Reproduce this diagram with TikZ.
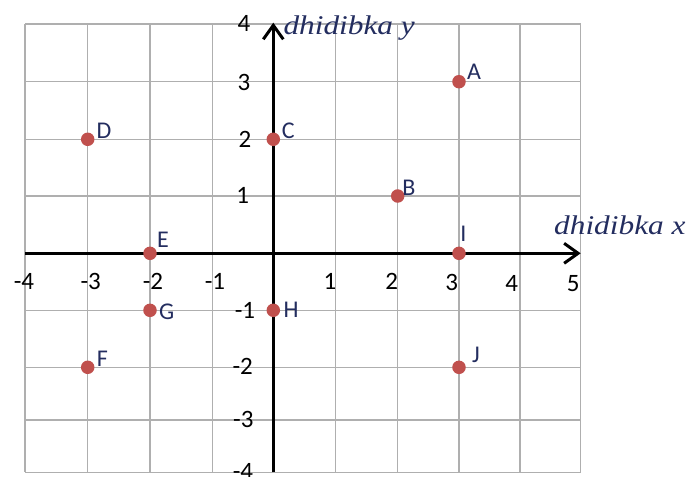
\documentclass[tikz,border=0pt]{standalone}
\usepackage{fontspec}
\usetikzlibrary{arrows.meta}
\newfontfamily\lblfont{Carlito}
\newfontfamily\axfont[FakeStretch=1.16]{Liberation Serif}
\definecolor{navy}{RGB}{35,45,95}
\definecolor{dotred}{RGB}{192,80,77}
\definecolor{gridgray}{RGB}{175,175,175}
\tikzset{
  gridline/.style={draw=gridgray, line width=1.5pt},
  axis/.style={draw=black, line width=3pt, -{Straight Barb[length=14pt,width=20pt]}},
  ptdot/.style={circle, fill=dotred, inner sep=0pt, minimum size=13.5pt},
  ptlbl/.style={text=navy, inner sep=0pt, font=\lblfont\fontsize{24}{28}\selectfont},
  numlbl/.style={text=black, inner sep=0pt, font=\lblfont\fontsize{25}{29}\selectfont},
  axlbl/.style={text=navy, inner sep=0pt, anchor=base west, font=\axfont\itshape\fontsize{27}{31}\selectfont},
}
\begin{document}
\begin{tikzpicture}[x=1pt,y=-1pt]
\useasboundingbox (0,0) rectangle (689,477);
\clip (0,0) rectangle (689,477);
% grid
\foreach \gx in {25,87.7,150,212.3,273.3,335.5,397.7,459,520,580.7}
  \draw[gridline] (\gx,24) -- (\gx,472.3);
\foreach \gy in {24,81.7,139.3,196,253.3,310.3,367.3,420,472.3}
  \draw[gridline] (25,\gy) -- (580.7,\gy);
% axes
\coordinate (xs) at (25,253.3);
\coordinate (xe) at (580.7,253.3);
\coordinate (ys) at (273.3,472.3);
\coordinate (ye) at (273.3,22.7);
\draw[axis] (xs) -- (xe);
\draw[axis] (ys) -- (ye);
% axis titles
\node[axlbl] (ty) at (283.3,34.3) {dhidibka y};
\node[axlbl] (tx) at (554,234.3) {dhidibka x};
% x tick labels
\node[numlbl] (xm4) at (24,281) {-4};
\node[numlbl] (xm3) at (90.7,281) {-3};
\node[numlbl] (xm2) at (153,281) {-2};
\node[numlbl] (xm1) at (215,281) {-1};
\node[numlbl] (xp1) at (330,281) {1};
\node[numlbl] (xp2) at (391.7,281.7) {2};
\node[numlbl] (xp3) at (451.7,282) {3};
\node[numlbl] (xp4) at (511.7,283.5) {4};
\node[numlbl] (xp5) at (573.3,283.5) {5};
% y tick labels
\node[numlbl] (yp4) at (244,23.3) {4};
\node[numlbl] (yp3) at (244,82.5) {3};
\node[numlbl] (yp2) at (245,139.3) {2};
\node[numlbl] (yp1) at (242.7,195.5) {1};
\node[numlbl] (ym1) at (245,310) {-1};
\node[numlbl] (ym2) at (242.7,366.7) {-2};
\node[numlbl] (ym3) at (243.3,419.5) {-3};
\node[numlbl] (ym4) at (243,471.7) {-4};
% points
\node[ptdot] (A) at (459,81.7) {};
\node[ptdot] (B) at (397.7,196) {};
\node[ptdot] (C) at (273.3,139.3) {};
\node[ptdot] (D) at (87.7,139.3) {};
\node[ptdot] (E) at (150,253.3) {};
\node[ptdot] (F) at (87.7,367.3) {};
\node[ptdot] (G) at (150,310.3) {};
\node[ptdot] (H) at (273.3,310.3) {};
\node[ptdot] (I) at (459,253.3) {};
\node[ptdot] (J) at (459,367.3) {};
% point labels
\node[ptlbl] (lA) at (474,71.7) {A};
\node[ptlbl] (lB) at (409,188) {B};
\node[ptlbl] (lC) at (288.3,130.7) {C};
\node[ptlbl] (lD) at (104,131) {D};
\node[ptlbl] (lE) at (163,240) {E};
\node[ptlbl] (lF) at (102.3,358.3) {F};
\node[ptlbl] (lG) at (166.7,311.7) {G};
\node[ptlbl] (lH) at (291,310) {H};
\node[ptlbl] (lI) at (463.3,233.3) {I};
\node[ptlbl] (lJ) at (476,355) {J};
\end{tikzpicture}
\end{document}
